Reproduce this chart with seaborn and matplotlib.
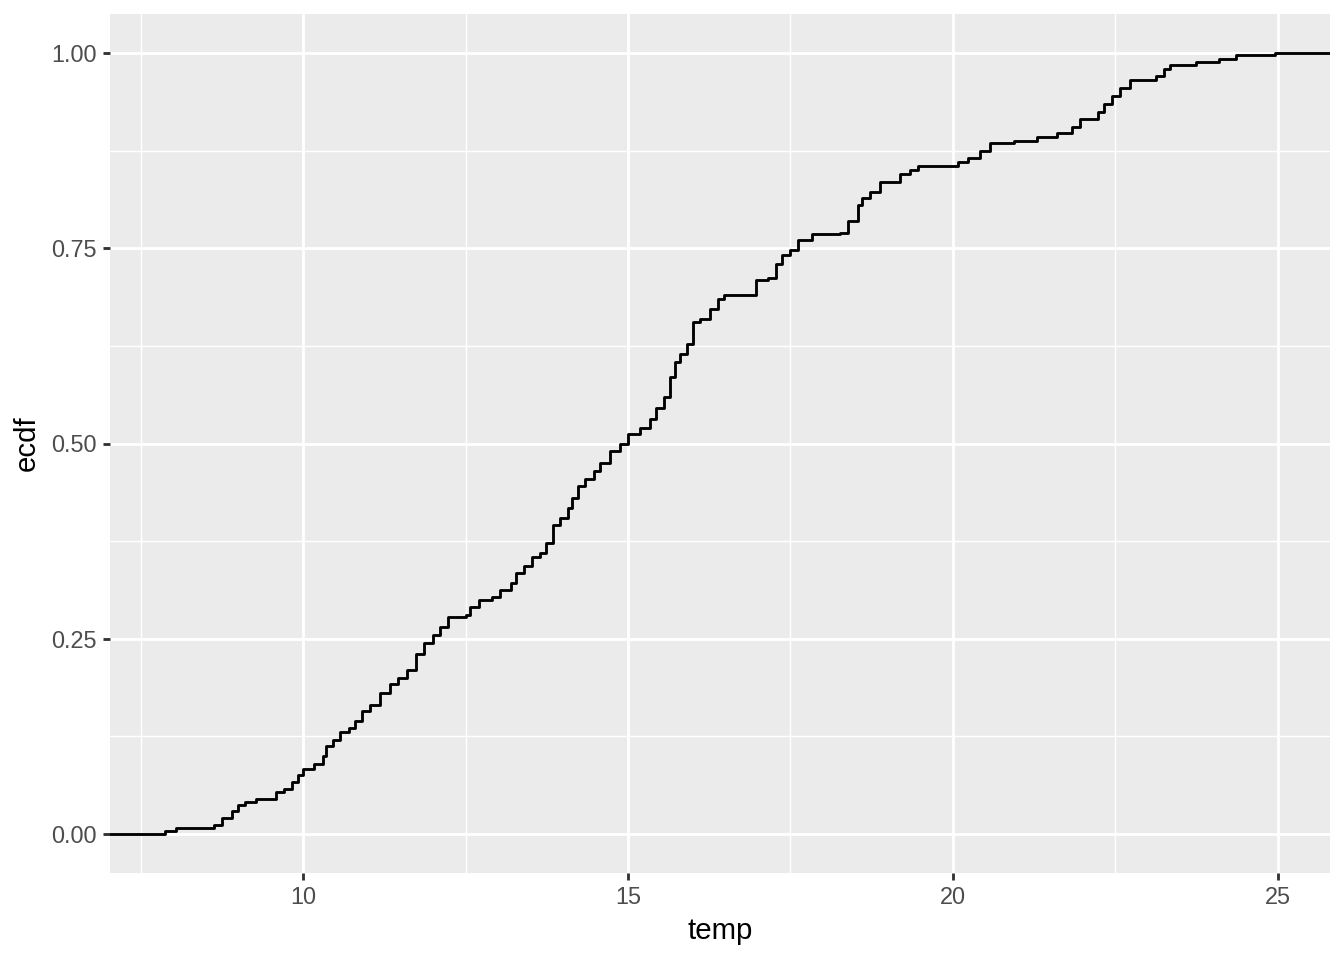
"""ECDF of daily temperature, styled after ggplot2's theme_grey."""
import matplotlib
matplotlib.use("Agg")
import matplotlib.pyplot as plt
import numpy as np
import seaborn as sns

# temperature values where the ECDF steps, and the ECDF level reached there
temps = [7.88, 8.05, 8.62, 8.75, 8.9, 9.0, 9.1, 9.28, 9.58, 9.7, 9.83, 9.92,
         10.0, 10.17, 10.3, 10.35, 10.46, 10.57, 10.7, 10.8, 10.9, 11.03,
         11.18, 11.34, 11.46, 11.6, 11.74, 11.86, 12.0, 12.1, 12.23, 12.5,
         12.57, 12.7, 12.9, 13.03, 13.2, 13.28, 13.4, 13.52, 13.65, 13.74,
         13.85, 13.95, 14.08, 14.14, 14.23, 14.34, 14.48, 14.57, 14.72, 14.87,
         15.0, 15.18, 15.34, 15.43, 15.55, 15.65, 15.72, 15.8, 15.9, 16.0,
         16.1, 16.26, 16.38, 16.48, 16.97, 17.15, 17.28, 17.37, 17.5, 17.62,
         17.83, 18.26, 18.38, 18.54, 18.6, 18.72, 18.88, 19.18, 19.34, 19.46,
         20.08, 20.23, 20.42, 20.57, 20.94, 21.3, 21.6, 21.83, 21.95, 22.23,
         22.32, 22.45, 22.57, 22.72, 23.12, 23.25, 23.34, 23.74, 24.1, 24.35,
         24.95]
ecdf_level = [0.004, 0.008, 0.012, 0.02, 0.03, 0.037, 0.041, 0.045, 0.054,
              0.058, 0.066, 0.075, 0.083, 0.09, 0.1, 0.112, 0.12, 0.13, 0.136,
              0.145, 0.157, 0.165, 0.18, 0.192, 0.2, 0.21, 0.23, 0.245, 0.255,
              0.265, 0.278, 0.28, 0.29, 0.3, 0.303, 0.313, 0.322, 0.334, 0.343,
              0.355, 0.36, 0.372, 0.395, 0.405, 0.418, 0.43, 0.445, 0.455,
              0.465, 0.475, 0.49, 0.5, 0.512, 0.52, 0.532, 0.545, 0.56, 0.585,
              0.605, 0.615, 0.628, 0.655, 0.66, 0.672, 0.685, 0.69, 0.71,
              0.712, 0.73, 0.742, 0.748, 0.76, 0.768, 0.77, 0.785, 0.805,
              0.815, 0.822, 0.835, 0.845, 0.85, 0.855, 0.86, 0.865, 0.875,
              0.885, 0.888, 0.893, 0.897, 0.905, 0.915, 0.925, 0.935, 0.945,
              0.955, 0.965, 0.97, 0.98, 0.985, 0.988, 0.992, 0.997, 1.0]

x_ticks = [10, 15, 20, 25]
y_ticks = [0.0, 0.25, 0.5, 0.75, 1.0]

sns.set_theme(style="darkgrid", rc={
    "axes.facecolor": "#EBEBEB",
    "grid.color": "white",
})
plt.rcParams["font.family"] = ["Liberation Sans", "DejaVu Sans"]

weights = np.diff(np.r_[0.0, ecdf_level])

fig = plt.figure(figsize=(7, 5), dpi=192)
ax = fig.add_axes([110 / 1344, 87 / 960, 1220 / 1344, 859 / 960])
sns.ecdfplot(x=temps, weights=weights, ax=ax, color="black", linewidth=1.07)

# ggplot-like 5% expansion
lo, hi = min(temps), max(temps)
pad = (hi - lo) * 0.05
xlim = (lo - pad, hi + pad)
ax.set_xlim(xlim)
ax.set_ylim(-0.05, 1.05)

# extend the step line to both panel edges, as stat_ecdf does
line = ax.lines[0]
xs, ys = line.get_data()
xs = np.asarray(xs, dtype=float)
ys = np.asarray(ys, dtype=float)
keep = np.isfinite(xs)
xs = np.r_[xlim[0], xs[keep], xlim[1]]
ys = np.r_[0.0, ys[keep], 1.0]
line.set_data(xs, ys)

ax.set_xticks(x_ticks)
ax.set_xticklabels([str(t) for t in x_ticks])
ax.set_yticks(y_ticks)
ax.set_yticklabels([f"{t:.2f}" for t in y_ticks])
ax.set_xticks([7.5, 12.5, 17.5, 22.5], minor=True)
ax.set_yticks([0.125, 0.375, 0.625, 0.875], minor=True)
ax.grid(which="major", color="white", linewidth=1.07)
ax.grid(which="minor", color="white", linewidth=0.53)
ax.tick_params(which="major", length=2.75, width=1.07, color="#333333",
               labelsize=8.8, labelcolor="#4D4D4D", pad=2.2,
               bottom=True, left=True)
ax.tick_params(which="minor", length=0)
for s in ax.spines.values():
    s.set_visible(False)

ax.set_xlabel("temp", fontsize=11, color="black", labelpad=3)
ax.set_ylabel("ecdf", fontsize=11, color="black", labelpad=4)

fig.savefig("out.png", dpi=192)
